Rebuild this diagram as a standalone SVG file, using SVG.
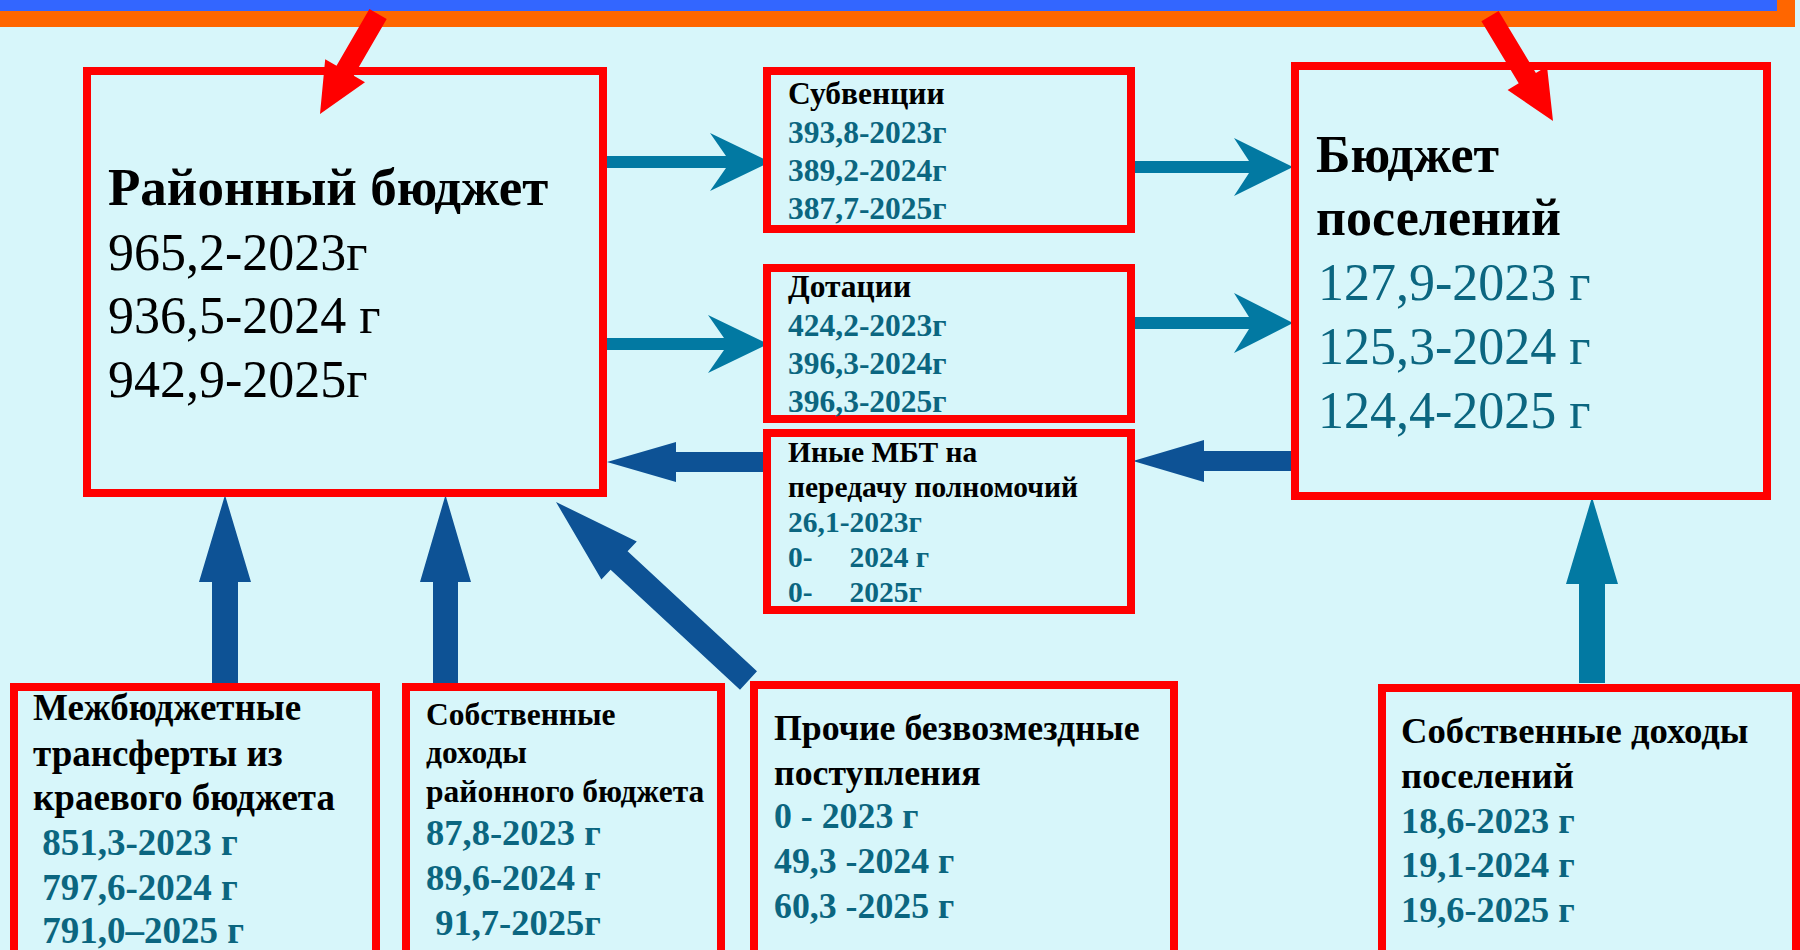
<svg xmlns="http://www.w3.org/2000/svg" width="1800" height="950" viewBox="0 0 1800 950">
<style>
.box{fill:none;stroke:#ff0000;stroke-width:8}
text{font-family:"Liberation Serif","Times New Roman",serif}
.b{font-weight:bold}
.k{fill:#000}
.t{fill:#0b6680}
.teal{fill:#0279a2}
.dark{fill:#0d5295}
.red{fill:#ff0000}
</style>
<rect x="0" y="0" width="1800" height="950" fill="#d7f6fa"/>
<rect x="0" y="0" width="1795" height="27" fill="#ff6600"/>
<rect x="0" y="0" width="1777" height="11" fill="#3366ff"/>

<g id="connectors">
<polygon class="teal" points="603,156 726,156 710,133 770,162 710,191 726,168 603,168"/>
<polygon class="teal" points="603,338 724,338 708,315 768,344 708,373 724,350 603,350"/>
<polygon class="teal" points="1128,161 1249,161 1234,138 1293,167 1234,196 1249,173 1128,173"/>
<polygon class="teal" points="1128,317 1249,317 1234,293 1293,323 1234,353 1249,329 1128,329"/>
<polygon class="dark" points="767,452 676,452 676,442 607,462 676,482 676,472 767,472"/>
<polygon class="dark" points="1293,451 1204,451 1204,440 1133,461 1204,482 1204,471 1293,471"/>
<polygon class="dark" points="212,683 212,582 199,582 225,495 251,582 238,582 238,683"/>
<polygon class="dark" points="433,683 433,582 420,582 445.5,495 471,582 458,582 458,683"/>
<polygon class="dark" points="757,671.3 627.6,551.3 636.8,541.4 556,502 601.4,579.6 610.6,569.7 740,689.7"/>
<polygon class="teal" points="1579,683 1579,584 1566,584 1592,497 1618,584 1605,584 1605,683"/>
</g>

<g id="rayon">
<rect class="box" x="87" y="71" width="516" height="422"/>
<text class="b k" x="108" y="205" font-size="53">Районный бюджет</text>
<text class="k" x="108" y="270" font-size="52">965,2-2023г</text>
<text class="k" x="108" y="333" font-size="52">936,5-2024 г</text>
<text class="k" x="108" y="397" font-size="52">942,9-2025г</text>
</g>

<g id="subv">
<rect class="box" x="767" y="71" width="364" height="158"/>
<text class="b k" x="788" y="104" font-size="31.5">Субвенции</text>
<text class="b t" x="788" y="143" font-size="31.5">393,8-2023г</text>
<text class="b t" x="788" y="181" font-size="31.5">389,2-2024г</text>
<text class="b t" x="788" y="219" font-size="31.5">387,7-2025г</text>
</g>

<g id="dot">
<rect class="box" x="767" y="268" width="364" height="151"/>
<text class="b k" x="788" y="297" font-size="31.5">Дотации</text>
<text class="b t" x="788" y="336" font-size="31.5">424,2-2023г</text>
<text class="b t" x="788" y="374" font-size="31.5">396,3-2024г</text>
<text class="b t" x="788" y="412" font-size="31.5">396,3-2025г</text>
</g>

<g id="inye">
<rect class="box" x="767" y="433" width="364" height="177"/>
<text class="b k" x="788" y="462" font-size="29.5">Иные МБТ на</text>
<text class="b k" x="788" y="497" font-size="29.5">передачу полномочий</text>
<text class="b t" x="788" y="532" font-size="29.5">26,1-2023г</text>
<text class="b t" x="788" y="567" font-size="29.5" xml:space="preserve">0-     2024 г</text>
<text class="b t" x="788" y="602" font-size="29.5" xml:space="preserve">0-     2025г</text>
</g>

<g id="pos">
<rect class="box" x="1295" y="66" width="472" height="430"/>
<text class="b k" x="1316" y="172" font-size="52">Бюджет</text>
<text class="b k" x="1316" y="235" font-size="52">поселений</text>
<text class="t" x="1318" y="300" font-size="52">127,9-2023 г</text>
<text class="t" x="1318" y="364" font-size="52">125,3-2024 г</text>
<text class="t" x="1318" y="428" font-size="52">124,4-2025 г</text>
</g>

<g id="mbt">
<rect class="box" x="14" y="687" width="362" height="300"/>
<text class="b k" x="33" y="720" font-size="37">Межбюджетные</text>
<text class="b k" x="33" y="766" font-size="37">трансферты из</text>
<text class="b k" x="33" y="810" font-size="37">краевого бюджета</text>
<text class="b t" x="33" y="855" font-size="37" xml:space="preserve"> 851,3-2023 г</text>
<text class="b t" x="33" y="900" font-size="37" xml:space="preserve"> 797,6-2024 г</text>
<text class="b t" x="33" y="943" font-size="37" xml:space="preserve"> 791,0–2025 г</text>
</g>

<g id="sobr">
<rect class="box" x="406" y="687" width="315" height="300"/>
<text class="b k" x="426" y="725" font-size="31.5">Собственные</text>
<text class="b k" x="426" y="763" font-size="31.5">доходы</text>
<text class="b k" x="426" y="802" font-size="31.5">районного бюджета</text>
<text class="b t" x="426" y="845" font-size="36.5">87,8-2023 г</text>
<text class="b t" x="426" y="890" font-size="36.5">89,6-2024 г</text>
<text class="b t" x="426" y="935" font-size="36.5" xml:space="preserve"> 91,7-2025г</text>
</g>

<g id="proch">
<rect class="box" x="754" y="685" width="420" height="300"/>
<text class="b k" x="774" y="740" font-size="35.8">Прочие безвозмездные</text>
<text class="b k" x="774" y="785" font-size="35.8">поступления</text>
<text class="b t" x="774" y="828" font-size="35.8">0 - 2023 г</text>
<text class="b t" x="774" y="873" font-size="35.8">49,3 -2024 г</text>
<text class="b t" x="774" y="918" font-size="35.8">60,3 -2025 г</text>
</g>

<g id="sobp">
<rect class="box" x="1382" y="688" width="414" height="300"/>
<text class="b k" x="1401" y="743" font-size="36.7">Собственные доходы</text>
<text class="b k" x="1401" y="788" font-size="36.7">поселений</text>
<text class="b t" x="1401" y="833" font-size="36.3">18,6-2023 г</text>
<text class="b t" x="1401" y="877" font-size="36.3">19,1-2024 г</text>
<text class="b t" x="1401" y="922" font-size="36.3">19,6-2025 г</text>
</g>

<g id="redarrows">
<polygon class="red" points="386.7,19 353.8,75.8 365,82.3 320,114 325.2,59.2 336.5,65.7 369.4,9"/>
<polygon class="red" points="1498.6,10.9 1535.9,73 1547,66.3 1553,121 1507.6,89.9 1518.7,83.3 1481.4,21.2"/>
</g>
</svg>
